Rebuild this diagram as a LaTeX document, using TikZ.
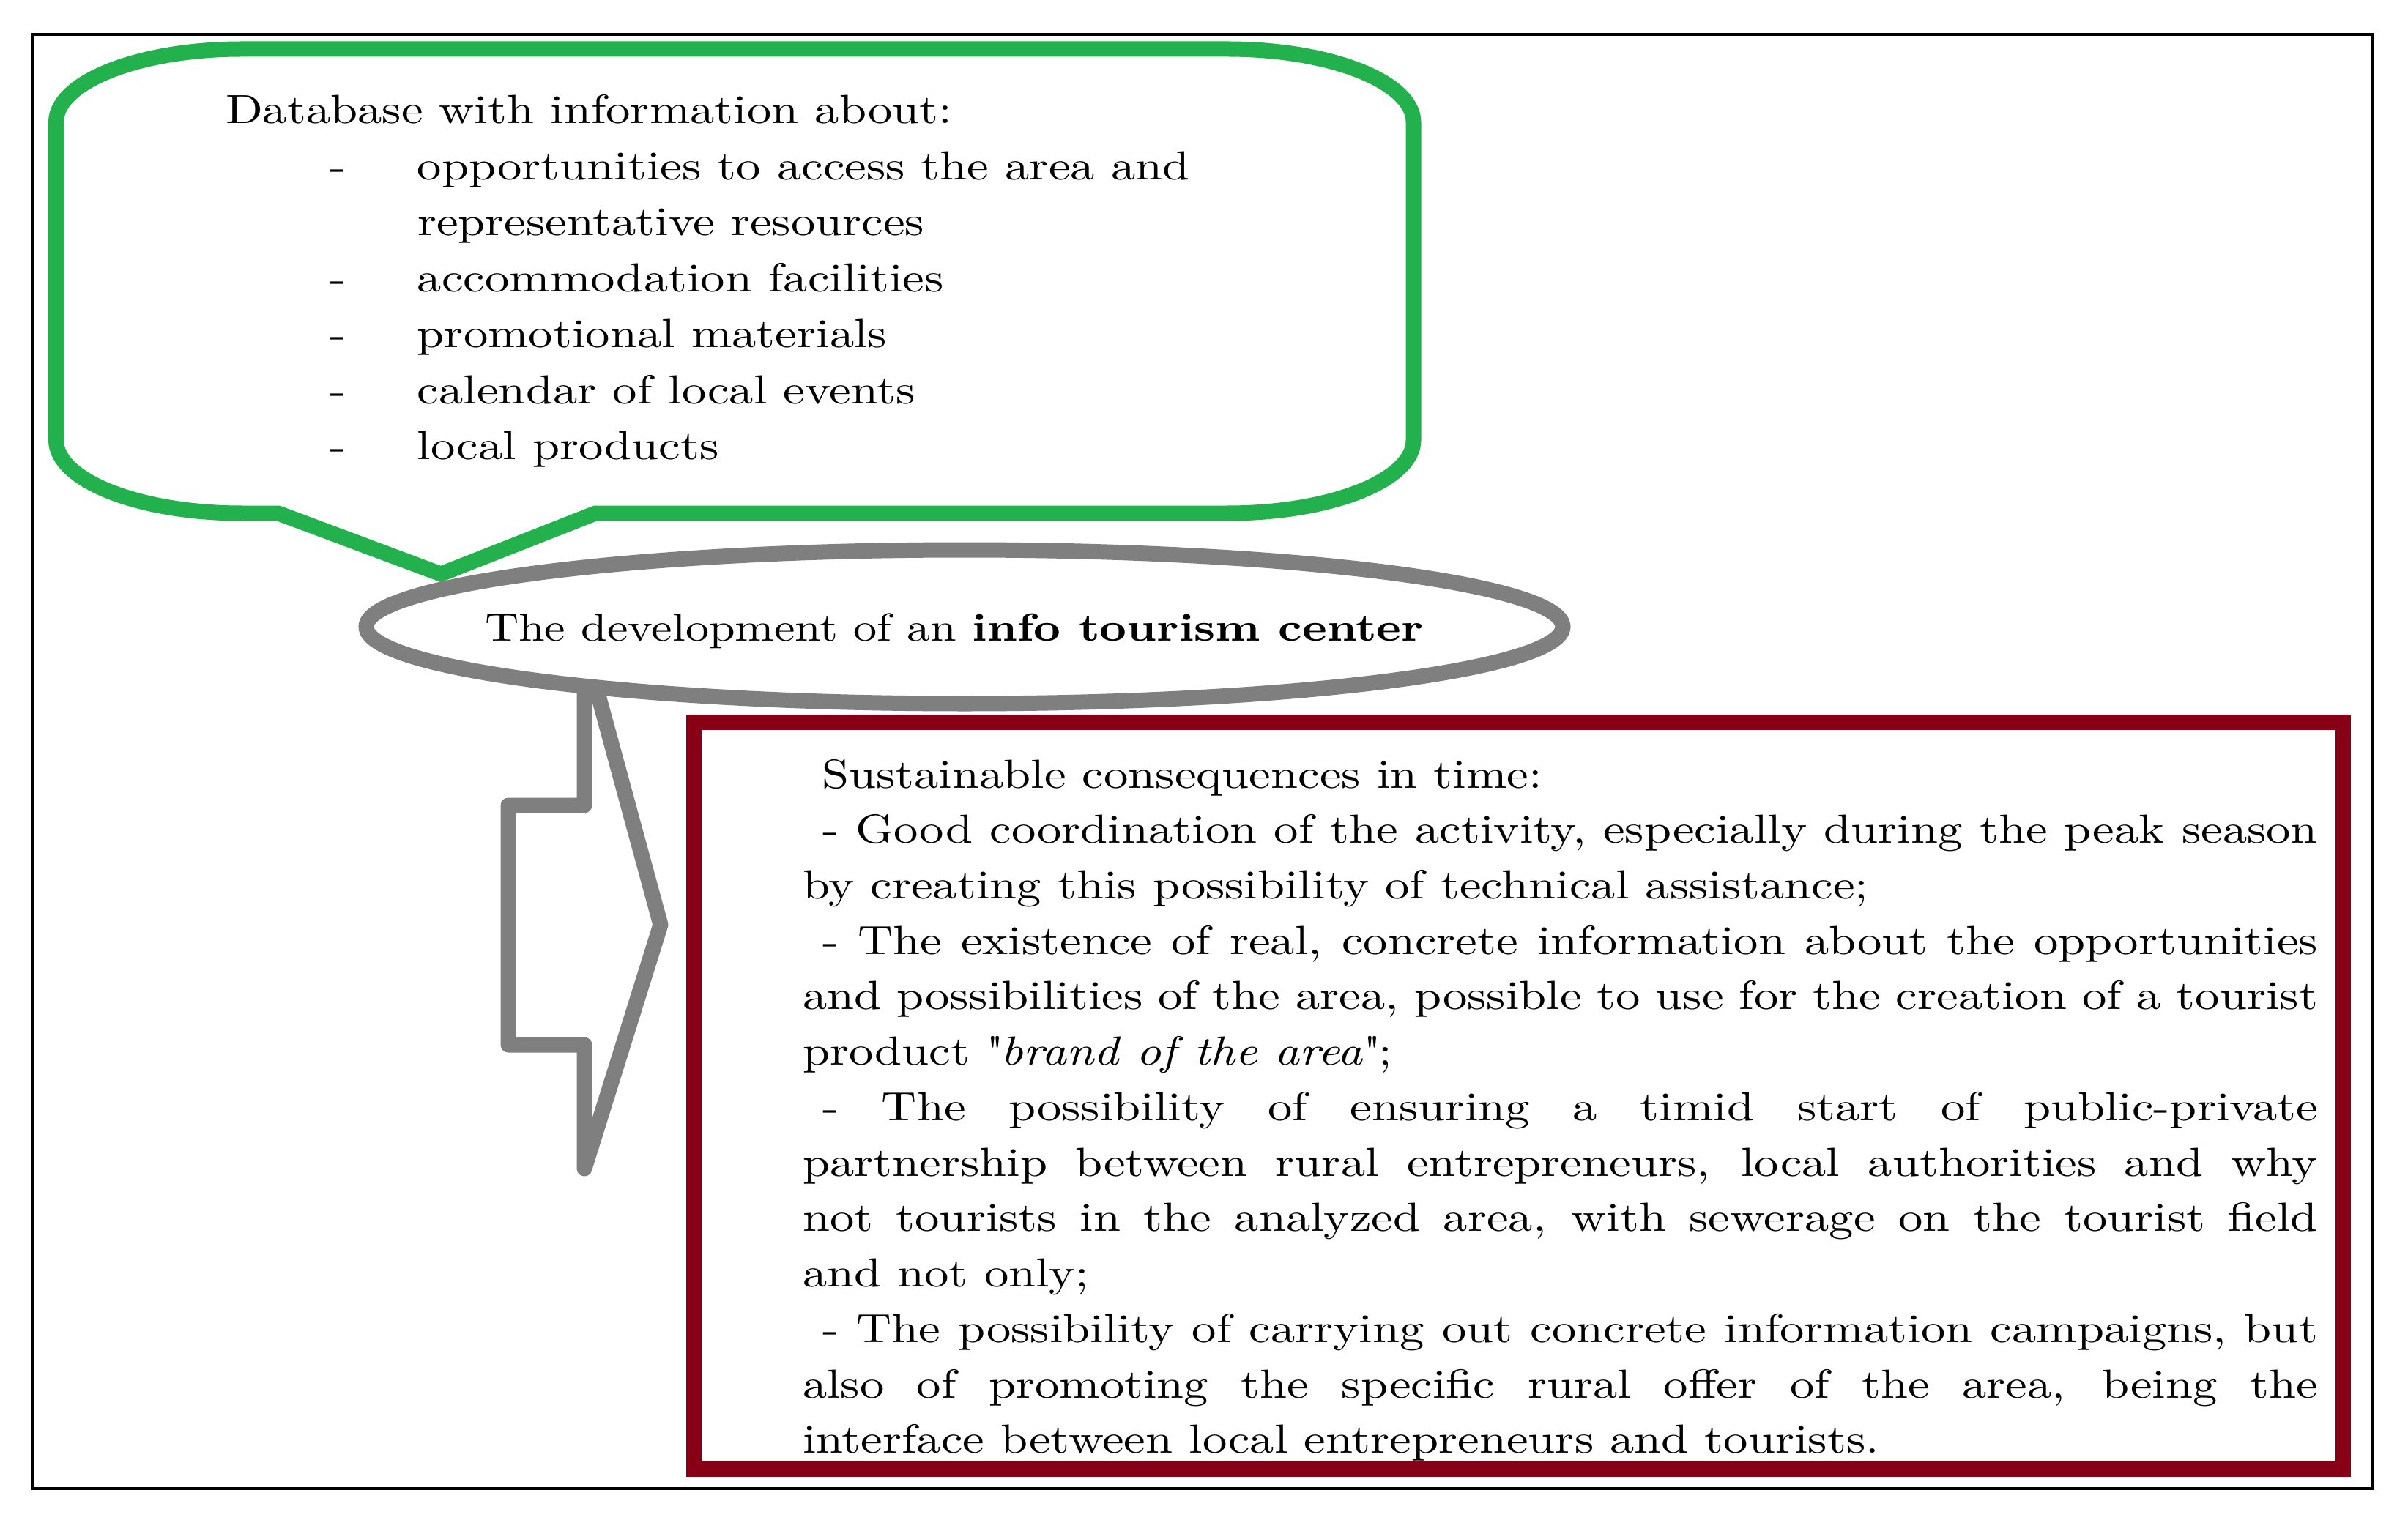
\documentclass[tikz,border=0pt]{standalone}
\usepackage{fontspec}
\setmainfont{lmroman10-regular.otf}[BoldFont=lmroman10-bold.otf, ItalicFont=lmroman10-italic.otf, BoldItalicFont=lmroman10-bolditalic.otf, FakeStretch=1.2]
\usetikzlibrary{shapes.geometric}
\definecolor{calloutgreen}{RGB}{34,177,76}
\definecolor{ringgray}{RGB}{127,127,127}
\definecolor{boxred}{RGB}{136,0,21}
\newcommand{\jline}[1]{\makebox[\linewidth][s]{#1}\\}
\tikzset{
  greenline/.style={draw=calloutgreen, line width=0.21cm, line join=miter},
  grayline/.style={draw=ringgray, line width=0.21cm},
  redline/.style={draw=boxred, line width=0.21cm},
  txt/.style={inner sep=0pt, outer sep=0pt, anchor=base west, font=\fontsize{15.8pt}{21.6pt}\selectfont},
}
\begin{document}
\begin{tikzpicture}
\useasboundingbox (0,0) rectangle (32.88,-20.76);
\fill[white] (0,0) rectangle (32.88,-20.76);
% outer frame
\draw[line width=0.04cm] (0.45,-0.47) rectangle (32.39,-20.33);
% green callout
\draw[greenline] (0.765,-1.67) arc[start angle=180,end angle=90,x radius=2.54,y radius=1.0]
  -- (16.76,-0.67) arc[start angle=90,end angle=0,x radius=2.54,y radius=1.0]
  -- (19.30,-6.01) arc[start angle=0,end angle=-90,x radius=2.54,y radius=1.0]
  -- (8.13,-7.01) -- (6.02,-7.84) -- (3.80,-7.01) -- (3.305,-7.01)
  arc[start angle=-90,end angle=-180,x radius=2.54,y radius=1.0] -- cycle;
\node[txt] (dbtext) at (3.08,-1.69) {\parbox[t]{16cm}{\fontsize{15.8pt}{21.75pt}\selectfont
Database with information about:\\
\hspace*{1.42cm}\makebox[1.2cm][l]{-}opportunities to access the area and\\
\hspace*{2.62cm}representative resources\\
\hspace*{1.42cm}\makebox[1.2cm][l]{-}accommodation facilities\\
\hspace*{1.42cm}\makebox[1.2cm][l]{-}promotional materials\\
\hspace*{1.42cm}\makebox[1.2cm][l]{-}calendar of local events\\
\hspace*{1.42cm}\makebox[1.2cm][l]{-}local products}};
% gray block arrow
\draw[grayline, line join=round] (7.98,-9.30) -- (7.98,-11.00) -- (6.94,-11.00) -- (6.94,-14.27)
  -- (7.98,-14.27) -- (7.98,-15.96) -- (9.02,-12.63) -- (8.13,-9.35);
% gray ellipse
\node[ellipse, grayline, minimum width=16.34cm, minimum height=2.10cm, inner sep=0pt] (dev) at (13.17,-8.56) {};
\node[txt, font=\fontsize{15.2pt}{21.6pt}\selectfont] (devtext) at (6.62,-8.75) {The development of an \textbf{info tourism center}};
% red box
\draw[redline] (9.47,-9.86) rectangle (31.99,-20.06);
\node[txt] (cons) at (10.96,-10.76) {\parbox[t]{20.69cm}{\fontsize{15.8pt}{21.55pt}\selectfont
\hspace*{0.26cm}Sustainable consequences in time:\\
\jline{\hspace*{0.27cm}- Good coordination of the activity, especially during the peak season}
by creating this possibility of technical assistance;\\
\jline{\hspace*{0.27cm}- The existence of real, concrete information about the opportunities}
\jline{and possibilities of the area, possible to use for the creation of a tourist}
product \textquotedbl\textit{brand of the area}\textquotedbl;\\
\jline{\hspace*{0.27cm}- The possibility of ensuring a timid start of public-private}
\jline{partnership between rural entrepreneurs, local authorities and why}
\jline{not tourists in the analyzed area, with sewerage on the tourist field}
and not only;\\
\jline{\hspace*{0.27cm}- The possibility of carrying out concrete information campaigns, but}
\jline{also of promoting the specific rural offer of the area, being the}
interface between local entrepreneurs and tourists.}};
\end{tikzpicture}
\end{document}
